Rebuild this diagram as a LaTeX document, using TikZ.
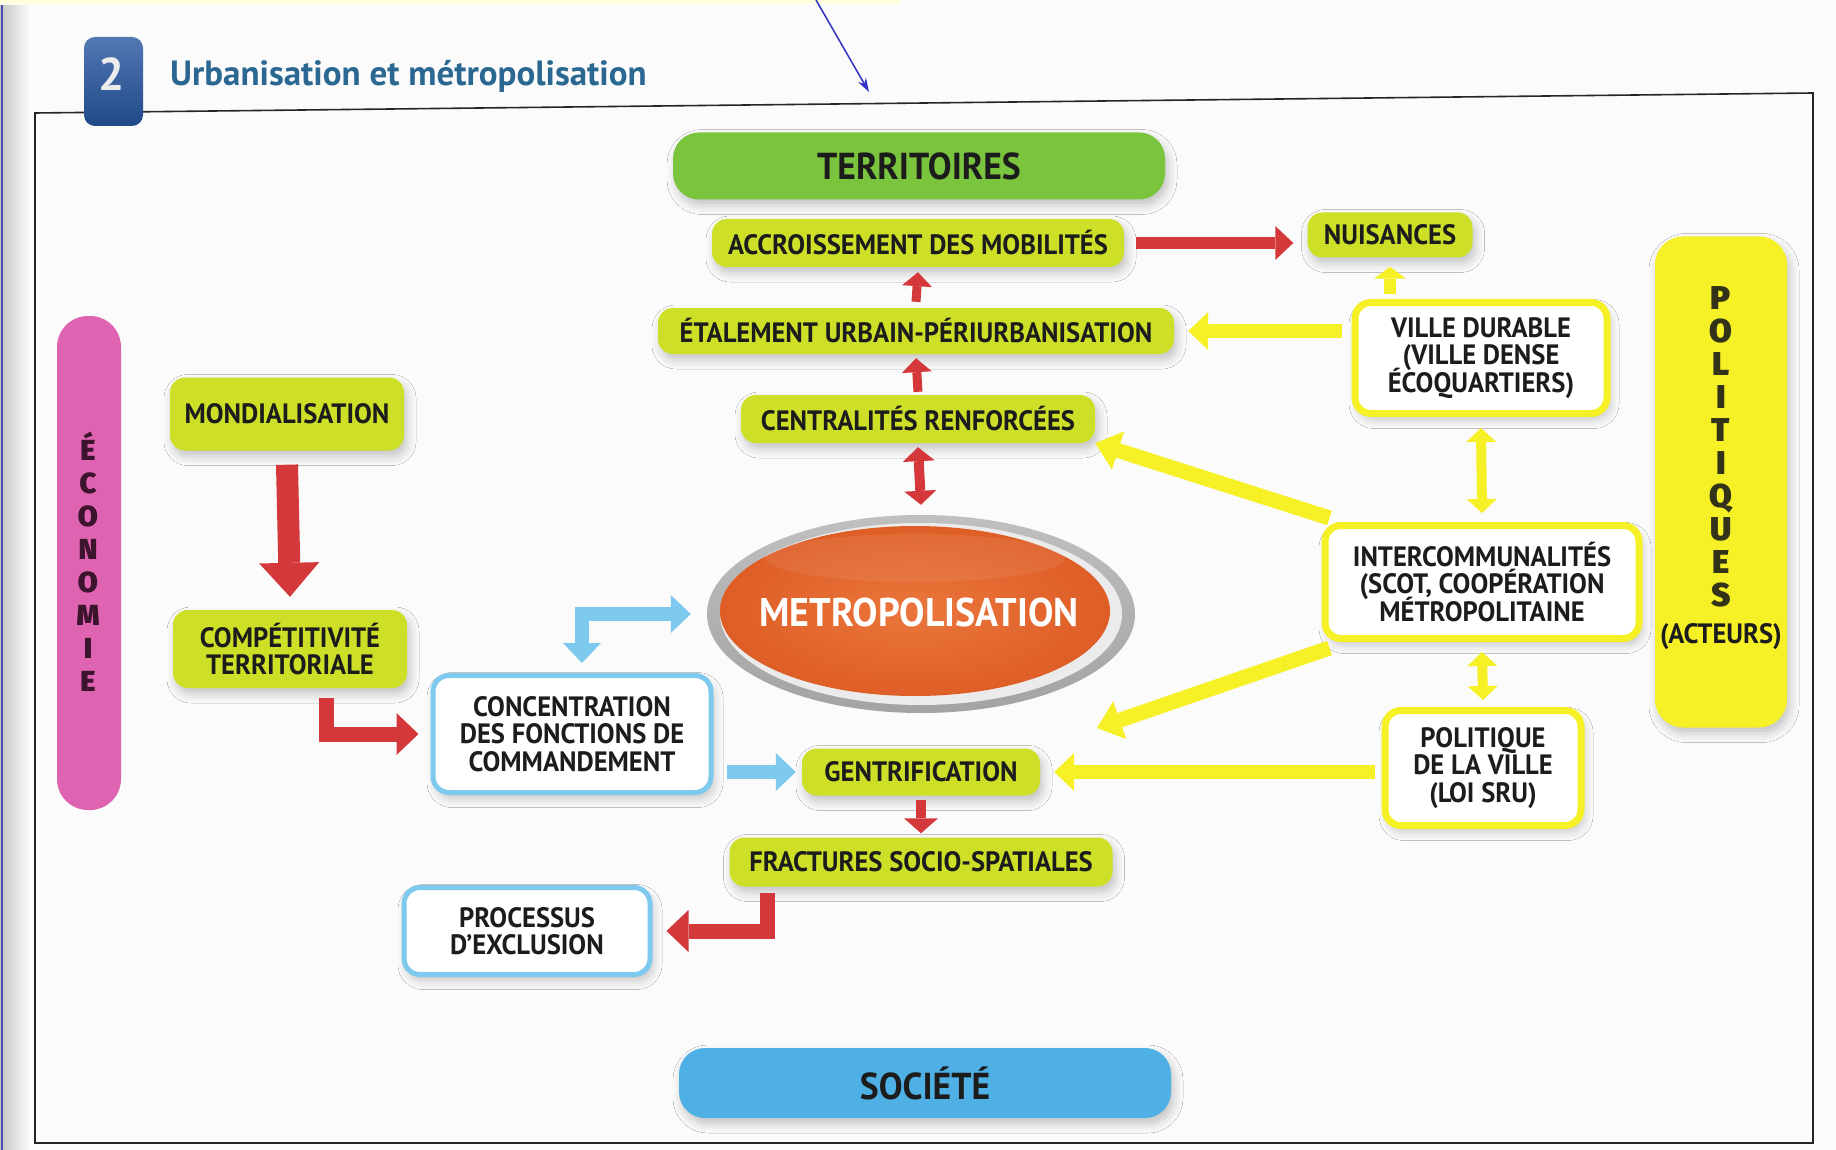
\documentclass[tikz,border=0pt]{standalone}
\usepackage{fontspec}
\setmainfont{PT Sans}
\newfontfamily\condfont{PT Sans}[FakeStretch=0.95]
\IfFontExistsTF{Fira Sans Black}
  {\newfontfamily\heavyfont{Fira Sans Black}}
  {\newfontfamily\heavyfont{PT Sans}[FakeBold=3]}
\usetikzlibrary{arrows.meta,calc,shadows.blur,shapes.geometric}

\definecolor{lime}{RGB}{206,223,40}
\definecolor{leaf}{RGB}{122,196,62}
\definecolor{lemon}{RGB}{246,240,38}
\definecolor{sky}{RGB}{126,202,238}
\definecolor{sea}{RGB}{78,176,228}
\definecolor{rose}{RGB}{222,100,178}
\definecolor{brick}{RGB}{212,56,58}
\definecolor{ink}{RGB}{28,28,28}
\definecolor{navy}{RGB}{38,86,160}
\definecolor{teal}{RGB}{42,104,146}
\definecolor{pumpkin}{RGB}{222,94,38}
\definecolor{plum}{RGB}{60,20,45}

\newcommand\labfont{\condfont\fontsize{28}{27.5}\selectfont\bfseries\lineskiplimit=-30pt\relax}
\newcommand\headfont{\condfont\fontsize{37.5}{39}\selectfont\bfseries}
\newcommand\barfont{\heavyfont\fontsize{33}{34}\selectfont}

\begin{document}
\begin{tikzpicture}[x=1pt,y=-1pt,
  softshadow/.style={blur shadow={shadow xshift=3pt,shadow yshift=-6pt,shadow blur radius=9pt,shadow opacity=22}},
  limebox/.style={fill=lime,rounded corners=15pt,inner sep=0pt,text=ink,font=\labfont,align=center,softshadow},
  yellowbox/.style={draw=lemon,line width=7pt,fill=white,rounded corners=16pt,inner sep=0pt,text=ink,font=\labfont,align=center,softshadow},
  bluebox/.style={draw=sky,line width=5pt,fill=white,rounded corners=16pt,inner sep=0pt,text=ink,font=\labfont,align=center,softshadow},
  theme/.style={rounded corners=26pt,inner sep=0pt,text=ink,font=\headfont},
  arr/.style n args={4}{draw=#1,line width=#2,line join=miter,
    -{Triangle[width=#3pt,length=#4pt,line width=0pt]}},
  darr/.style n args={4}{draw=#1,line width=#2,line join=miter,
    {Triangle[width=#3pt,length=#4pt,line width=0pt]}-{Triangle[width=#3pt,length=#4pt,line width=0pt]}},
]
\useasboundingbox (0,0) rectangle (1836,1150);
\fill[white!97!gray] (0,0) rectangle (1836,1150);
% page edge
\shade[left color=gray!45,right color=white!97!gray] (0,0) rectangle (30,1150);
\draw[blue!40!gray,line width=1.5pt] (2,0) -- (2,1150);
\shade[top color=yellow!18,bottom color=white!97!gray] (0,0) rectangle (900,5);

% frame of the figure
\draw[black!85,line width=1.6pt] (35,113) -- (1813,93) -- (1813,1143) -- (35,1143) -- cycle;

% heading
\node[top color=navy!80!white,bottom color=navy!85!black,rounded corners=11pt,
  minimum width=59,minimum height=89,inner sep=0pt] (numbox) at (113.5,81.5) {};
\node[text=white!85!gray,font=\fontsize{46}{46}\selectfont\bfseries] (numlbl) at (112,74) {2};
\node[anchor=base west,text=teal,font=\fontsize{35}{36}\selectfont\bfseries,inner sep=0pt]
  (title) at (170,86) {Urbanisation et métropolisation};

% annotation arrow
\coordinate (annA) at (816,0);
\coordinate (annB) at (869,92);
\draw[blue!70!black!80,line width=1.5pt,-{Stealth[length=14pt,width=9pt]}] (annA) -- (annB);

% theme bars
\node[theme,fill=leaf,minimum width=492,minimum height=67,softshadow] (terr) at (919,166) {TERRITOIRES};
\node[theme,fill=sea,minimum width=492,minimum height=70,softshadow] (soc) at (925,1083) {SOCIÉTÉ};
\node[fill=rose,rounded corners=31pt,minimum width=64,minimum height=494,inner sep=0pt] (econ) at (89,563) {};
\node[fill=lemon,rounded corners=28pt,minimum width=132,minimum height=491,inner sep=0pt,softshadow] (polq) at (1721,482) {};

\foreach \ch [count=\i from 0] in {É,C,O,N,O,M,I,E}
  \node[anchor=base,inner sep=0pt,text=plum,font=\heavyfont\fontsize{29}{30}\selectfont]
    (eco\i) at (88,460+33*\i) {\ch};
\foreach \ch [count=\i from 0] in {P,O,L,I,T,I,Q,U,E,S}
  \node[anchor=base,inner sep=0pt,text=ink!90!yellow,font=\barfont]
    (pol\i) at (1721,309+33*\i) {\ch};
\node[font=\labfont,text=ink,inner sep=0pt] (acteurs) at (1721,637) {(ACTEURS)};

% lime nodes
\node[limebox,minimum width=412,minimum height=48] (accr) at (918,243) {ACCROISSEMENT DES MOBILITÉS};
\node[limebox,minimum width=165,minimum height=45] (nuis) at (1390,235) {NUISANCES};
\node[limebox,minimum width=516,minimum height=46] (etal) at (916,331) {ÉTALEMENT URBAIN-PÉRIURBANISATION};
\node[limebox,minimum width=354,minimum height=48] (cent) at (918,419) {CENTRALITÉS RENFORCÉES};
\node[limebox,minimum width=234,minimum height=73] (mond) at (287,414) {MONDIALISATION};
\node[limebox,minimum width=234,minimum height=78] (comp) at (290,649) {COMPÉTITIVITÉ\\TERRITORIALE};
\node[limebox,minimum width=238,minimum height=47] (gent) at (921,772) {GENTRIFICATION};
\node[limebox,minimum width=383,minimum height=49] (frac) at (921,862) {FRACTURES SOCIO-SPATIALES};

% outlined nodes
\node[bluebox,minimum width=278,minimum height=117] (conc) at (572,734) {CONCENTRATION\\DES FONCTIONS DE\\COMMANDEMENT};
\node[bluebox,minimum width=246,minimum height=87] (proc) at (527,931) {PROCESSUS\\D’EXCLUSION};
\node[yellowbox,minimum width=252,minimum height=111] (ville) at (1481,358) {VILLE DURABLE\\(VILLE DENSE\\ÉCOQUARTIERS)};
\node[yellowbox,minimum width=314,minimum height=113] (inter) at (1482,582) {INTERCOMMUNALITÉS\\(SCOT, COOPÉRATION\\MÉTROPOLITAINE};
\node[yellowbox,minimum width=196,minimum height=115] (polv) at (1483,768) {POLITIQUE\\DE LA VILLE\\(LOI SRU)};

% central ellipse: grey rim, pale inner band, orange body
\node[ellipse,minimum width=428,minimum height=198,inner sep=0pt,
  top color=gray!50,bottom color=gray!72] (metro) at (921,614) {};
\fill[gray!16] (metro.center) ellipse [x radius=201,y radius=91];
\shade[inner color={rgb,255:red,234;green,118;blue,60},outer color=pumpkin]
  (915,611) ellipse [x radius=195,y radius=85];
\fill[white,opacity=0.07] (915,558) ellipse [x radius=150,y radius=24];
\node[text=white,font=\condfont\fontsize{40}{40}\selectfont\bfseries,inner sep=0pt] (metrolbl) at (919,612) {METROPOLISATION};

% red links
\draw[arr={brick}{12}{34}{18}] ([xshift=12pt]accr.east) -- ([xshift=-14pt]accr.east -| nuis.west);
\draw[arr={brick}{9}{30}{14}] ([yshift=6pt]etal.north) -- ([yshift=-5pt]accr.south);
\draw[arr={brick}{9}{30}{14}] ([yshift=3pt]cent.north) -- ([yshift=-4pt]etal.south);
\draw[darr={brick}{10}{32}{14}] ([yshift=-4pt]cent.south) -- ([yshift=10pt]metro.north);
\draw[arr={brick}{22}{60}{34}] ([yshift=-14pt]mond.south) -- ([yshift=13pt]comp.north);
\draw[arr={brick}{15}{42}{22}] ([xshift=36pt,yshift=-10pt]comp.south) |- ([xshift=-12pt]conc.west);
\draw[arr={brick}{10}{34}{15}] ([yshift=-4pt]gent.south) -- ([yshift=4pt]frac.north);
\draw[arr={brick}{15}{42}{22}] ([xshift=-154pt,yshift=-6pt]frac.south) |- ([xshift=14pt]proc.east);

% blue links
\draw[darr={sky}{14}{38}{20}] ([xshift=10pt,yshift=10pt]conc.north) |- ([xshift=-16pt]metro.west);
\draw[arr={sky}{14}{38}{20}] ([xshift=13pt]conc.east |- gent.west) -- ([xshift=-6pt]gent.west);

% yellow links
\coordinate (gentgap) at (1097,728);
\draw[arr={lemon}{12}{32}{12}] ([yshift=5pt]ville.north -| nuis.south) -- ([yshift=-9pt]nuis.south);
\draw[arr={lemon}{14}{38}{20}] ([xshift=-10pt]ville.west |- etal.east) -- ([xshift=14pt]etal.east);
\draw[darr={lemon}{10}{30}{14}] ([yshift=-11pt]ville.south) -- ([yshift=9pt]inter.north);
\draw[arr={lemon}{15}{40}{24}] ([xshift=8pt,yshift=4pt]inter.north west) -- (cent.south east);
\draw[arr={lemon}{15}{40}{24}] ([xshift=8pt,yshift=-6pt]inter.south west) -- (gentgap);
\draw[darr={lemon}{10}{30}{14}] ([yshift=-10pt]inter.south) -- ([yshift=7pt]polv.north);
\draw[arr={lemon}{14}{38}{20}] ([xshift=-7pt]polv.west |- gent.east) -- ([xshift=14pt]gent.east);
\end{tikzpicture}
\end{document}
